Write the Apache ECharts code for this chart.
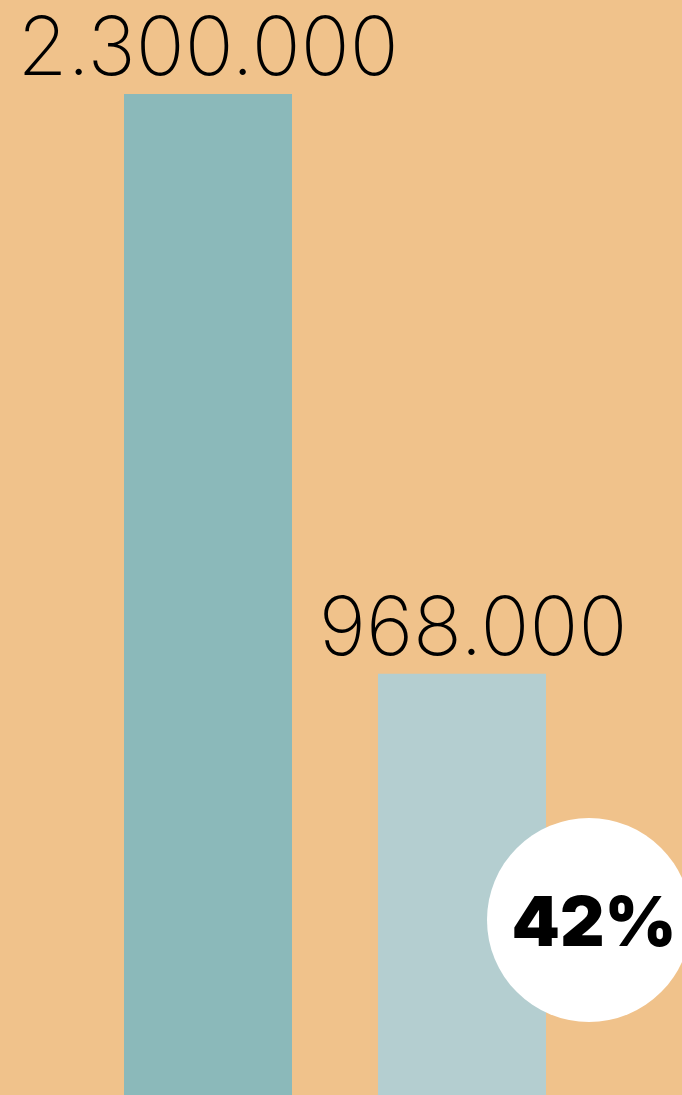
<!DOCTYPE html>
<html>
<head>
<meta charset="utf-8">
<script src="https://cdn.jsdelivr.net/npm/echarts@6/dist/echarts.min.js"></script>
<style>
html,body{margin:0;padding:0;background:#F0C28B;}
#c{width:682px;height:1095px;}
</style>
</head>
<body>
<div id="c"></div>
<script>
const categories = ['A', 'B'];
const values = [2300000, 968000];
const barColors = ['#8BB9BA', '#B4CED0'];
const labelTexts = ['2.300.000', '968.000'];
const pct = Math.round(values[1] / values[0] * 100) + '%';

const chart = echarts.init(document.getElementById('c'));
chart.setOption({
  backgroundColor: '#F0C28B',
  animation: false,
  grid: { left: 81, right: 93, top: 94, bottom: 0, containLabel: false },
  xAxis: { type: 'category', data: categories, show: false },
  yAxis: { type: 'value', min: 0, max: 2300000, show: false },
  series: [{
    type: 'bar',
    barWidth: 168,
    data: values.map((v, i) => ({
      value: v,
      itemStyle: { color: barColors[i] },
      label: { offset: [i === 1 ? 11 : 0, 0] }
    })),
    label: {
      show: true,
      position: 'top',
      distance: 3,
      formatter: p => labelTexts[p.dataIndex],
      fontFamily: 'Inter',
      fontWeight: 200,
      fontSize: 81,
      color: '#000'
    }
  }],
  graphic: [{
    type: 'circle',
    shape: { cx: 589, cy: 920, r: 102 },
    style: { fill: '#fff' },
    z: 100
  }, {
    type: 'text',
    x: 594, y: 925,
    style: {
      text: pct,
      font: '900 69px Inter',
      fill: '#000',
      align: 'center',
      verticalAlign: 'middle'
    },
    z: 101
  }]
});
</script>
</body>
</html>
